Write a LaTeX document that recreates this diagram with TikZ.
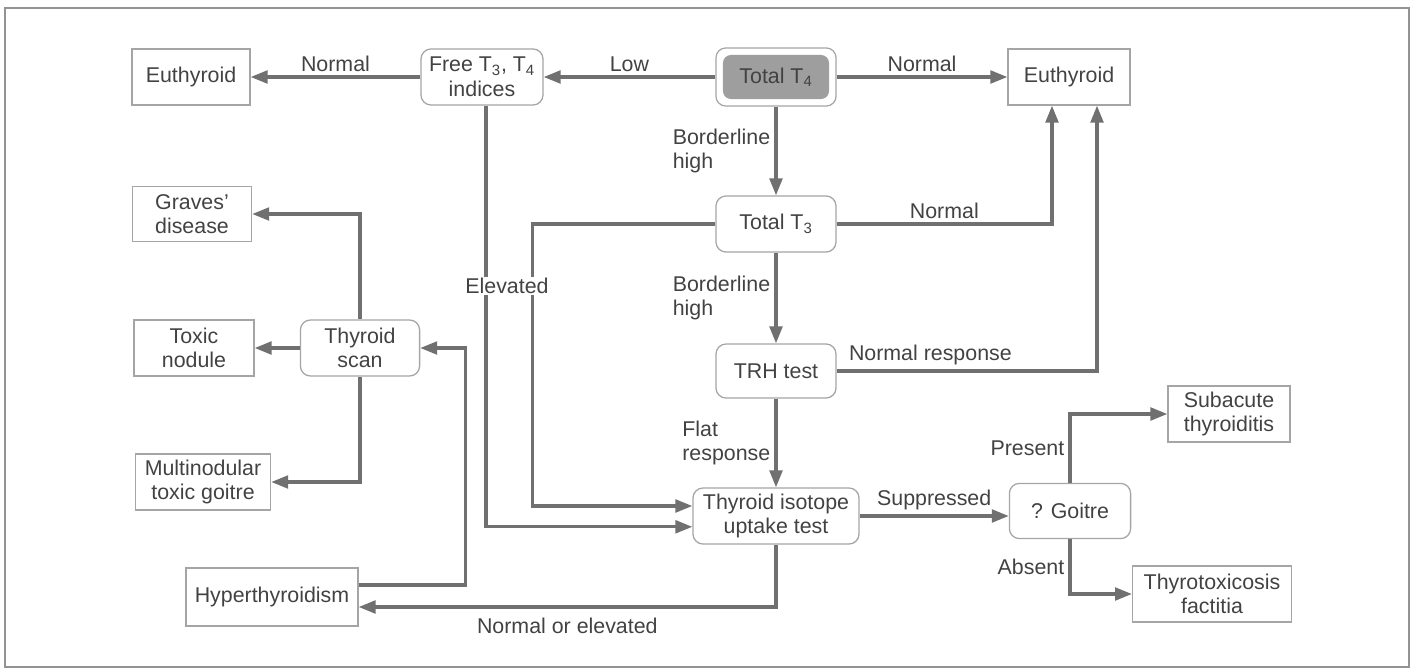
\documentclass[tikz,border=0pt]{standalone}
\usepackage{fontspec}
\setmainfont{Liberation Sans}
\usetikzlibrary{arrows.meta,fit}
\definecolor{wire}{RGB}{112,112,112}
\definecolor{rim}{RGB}{165,165,165}
\definecolor{ink}{RGB}{66,66,66}
\definecolor{shade}{RGB}{158,158,158}

\begin{document}
\begin{tikzpicture}[x=0.025cm, y=-0.025cm,
  >={Triangle[length=12pt,width=9pt]},
  every node/.style={text=ink, font=\fontsize{15.2}{17.5}\selectfont},
  box/.style={draw=rim, line width=0.9pt, minimum height=1.4cm, align=center, inner sep=2pt},
  test/.style={box, rounded corners=0.25cm},
  lbl/.style={inner sep=3pt, align=left},
  flow/.style={->, wire, line width=2.2pt}]

\useasboundingbox (0,0) rectangle (1415,670);
\draw[gray!85, line width=1.1pt] (5,8) rectangle (1409,667);

% tests
\node[fill=shade, rounded corners=0.2cm, minimum width=2.65cm, minimum height=1.1cm, inner sep=2pt] (t4core) at (776,77) {Total T\textsubscript{4}};
\node[test, fit=(t4core), inner sep=0.17cm] (t4) {};
\node[test, minimum width=3.05cm] (free) at (482,77) {Free T\textsubscript{3}, T\textsubscript{4}\\indices};
\node[test, minimum width=3cm] (t3) at (776,224) {Total T\textsubscript{3}};
\node[test, minimum width=3cm, minimum height=1.35cm] (trh) at (776,371) {TRH test};
\node[test, minimum width=4.15cm] (iso) at (776,516) {Thyroid isotope\\uptake test};
\node[test, minimum width=3.03cm, minimum height=1.38cm] (goitre) at (1070,511) {? Goitre};
\node[test, minimum width=2.98cm] (scan) at (360,348) {Thyroid\\scan};

% outcomes
\node[box, minimum width=2.95cm] (euL) at (191,77) {Euthyroid};
\node[box, minimum width=3.05cm] (euR) at (1069,77) {Euthyroid};
\node[box, minimum width=2.98cm, minimum height=1.38cm] (graves) at (192,214) {Graves'\\disease};
\node[box, minimum width=3cm] (toxic) at (194,348) {Toxic\\nodule};
\node[box, minimum width=3.38cm] (multi) at (203,482) {Multinodular\\toxic goitre};
\node[box, minimum width=4.3cm, minimum height=1.45cm] (hyper) at (272,597) {Hyperthyroidism};
\node[box, minimum width=3.05cm] (subac) at (1229,414) {Subacute\\thyroiditis};
\node[box, minimum width=3.97cm] (factitia) at (1212,594) {Thyrotoxicosis\\factitia};

% main column
\draw[flow] (t4) -- node[lbl, above] {Low} (free);
\draw[flow] (free) -- node[lbl, above] {Normal} (euL);
\draw[flow] (t4) -- node[lbl, above] {Normal} (euR);
\draw[flow] (t4) -- node[lbl, left] {Borderline\\high} (t3);
\draw[flow] (t3) -- node[lbl, left] {Borderline\\high} (trh);
\draw[flow] (trh) -- node[lbl, left] {Flat\\response} (iso);
\draw[flow] (t3) -| node[lbl, above, pos=0.25] {Normal} ([xshift=-0.425cm]euR.south);
\draw[flow] (trh) -| node[lbl, above, pos=0.18] {Normal response} ([xshift=0.7cm]euR.south);

% elevated branch
\draw[flow] (t3.west) -- ++(-183,0) |- ([yshift=0.25cm]iso.west);
\draw[flow] ([xshift=0.1cm]free.south) |- ([yshift=-0.27cm]iso.west);
\node[lbl, fill=white, inner sep=1pt] (elev) at (507,286) {Elevated};

% uptake test
\draw[flow] (iso.east) -- node[lbl, above] {Suppressed} (iso.east -| goitre.west);
\draw[flow] (iso.south) |- node[lbl, below=4pt, pos=0.75] {Normal or elevated} ([yshift=-0.25cm]hyper.east);
\draw[flow] (goitre) |- node[lbl, left, pos=0.25] {Present} (subac);
\draw[flow] (goitre) |- node[lbl, left, pos=0.25] {Absent} (factitia);

% scan
\draw[flow] ([yshift=0.3cm]hyper.east) -- ++(107,0) |- (scan.east);
\draw[flow] (scan) |- (graves);
\draw[flow] (scan) -- (toxic);
\draw[flow] (scan) |- (multi);
\end{tikzpicture}
\end{document}
